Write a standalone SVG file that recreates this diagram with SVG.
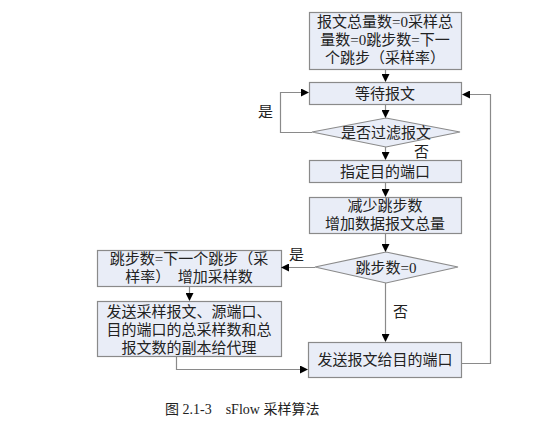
<svg xmlns="http://www.w3.org/2000/svg" width="539" height="426" viewBox="0 0 539 426">
<style>
.box{fill:#e9edf7;stroke:#8a8a8a;stroke-width:1.2}
.t{font-family:"Liberation Serif","Noto Sans CJK SC",serif;font-size:15px;fill:#222;text-anchor:middle}
.l{font-family:"Liberation Serif","Noto Sans CJK SC",serif;font-size:15px;fill:#222}
.cap{font-family:"Liberation Serif","Noto Sans CJK SC",serif;font-size:14px;fill:#222}
.c{fill:none;stroke:#8a8a8a;stroke-width:1.2}
</style>
<defs>
<marker id="ah" markerWidth="8" markerHeight="8" refX="7" refY="4" orient="auto" markerUnits="userSpaceOnUse">
<path d="M0,0 L8,4 L0,8 Z" fill="#000"/>
</marker>
</defs>
<rect width="539" height="426" fill="#fff"/>
<g id="n1"><rect class="box" x="309.5" y="12.5" width="152" height="57"/>
<text class="t" x="385" y="27">报文总量数=0采样总</text>
<text class="t" x="385" y="45">量数=0跳步数=下一</text>
<text class="t" x="385" y="63">个跳步（采样率）</text></g>
<g id="n2"><rect class="box" x="309.5" y="82.5" width="152" height="22"/>
<text class="t" x="385" y="98.5">等待报文</text></g>
<g id="n3"><polygon class="box" points="312,132 386,118 460,132 386,147"/>
<text class="t" x="386" y="137.5">是否过滤报文</text></g>
<g id="n4"><rect class="box" x="309.5" y="160.5" width="152" height="22"/>
<text class="t" x="385" y="176.5">指定目的端口</text></g>
<g id="n5"><rect class="box" x="309.5" y="197.5" width="152" height="36"/>
<text class="t" x="385" y="211">减少跳步数</text>
<text class="t" x="385" y="229">增加数据报文总量</text></g>
<g id="n6"><polygon class="box" points="315,267 386,252 458,267 386,283"/>
<text class="t" x="386" y="272.5">跳步数=0</text></g>
<g id="n7"><rect class="box" x="97.5" y="250.5" width="184" height="36"/>
<text class="t" x="189" y="264">跳步数=下一个跳步（采</text>
<text class="t" x="189" y="282" xml:space="preserve">样率）　增加采样数</text></g>
<g id="n8"><rect class="box" x="97.5" y="301.5" width="184" height="55"/>
<text class="t" x="189" y="317">发送采样报文、源端口、</text>
<text class="t" x="189" y="335">目的端口的总采样数和总</text>
<text class="t" x="189" y="353">报文数的副本给代理</text></g>
<g id="n9"><rect class="box" x="308.5" y="342.5" width="153" height="35"/>
<text class="t" x="385" y="365">发送报文给目的端口</text></g>
<g id="connectors">
<path class="c" d="M385.5,69 V81" marker-end="url(#ah)"/>
<path class="c" d="M385.5,105 V117" marker-end="url(#ah)"/>
<path class="c" d="M312,132.5 H280.5 V92.5 H308" marker-end="url(#ah)"/>
<path class="c" d="M385.5,147 V159" marker-end="url(#ah)"/>
<path class="c" d="M385.5,183 V196" marker-end="url(#ah)"/>
<path class="c" d="M385.5,234 V251" marker-end="url(#ah)"/>
<path class="c" d="M315,267.5 H282" marker-end="url(#ah)"/>
<path class="c" d="M189.5,287 V300" marker-end="url(#ah)"/>
<path class="c" d="M385.5,283 V341" marker-end="url(#ah)"/>
<path class="c" d="M176.5,357 V369.5 H307" marker-end="url(#ah)"/>
<path class="c" d="M462,363.5 H490.5 V94.5 H463" marker-end="url(#ah)"/>
</g>
<g id="labels">
<text class="l" x="258" y="117">是</text>
<text class="l" x="414" y="157">否</text>
<text class="l" x="289" y="260">是</text>
<text class="l" x="393" y="317">否</text>
<text class="cap" x="165" y="414" xml:space="preserve">图 2.1-3    sFlow 采样算法</text>
</g>
</svg>
